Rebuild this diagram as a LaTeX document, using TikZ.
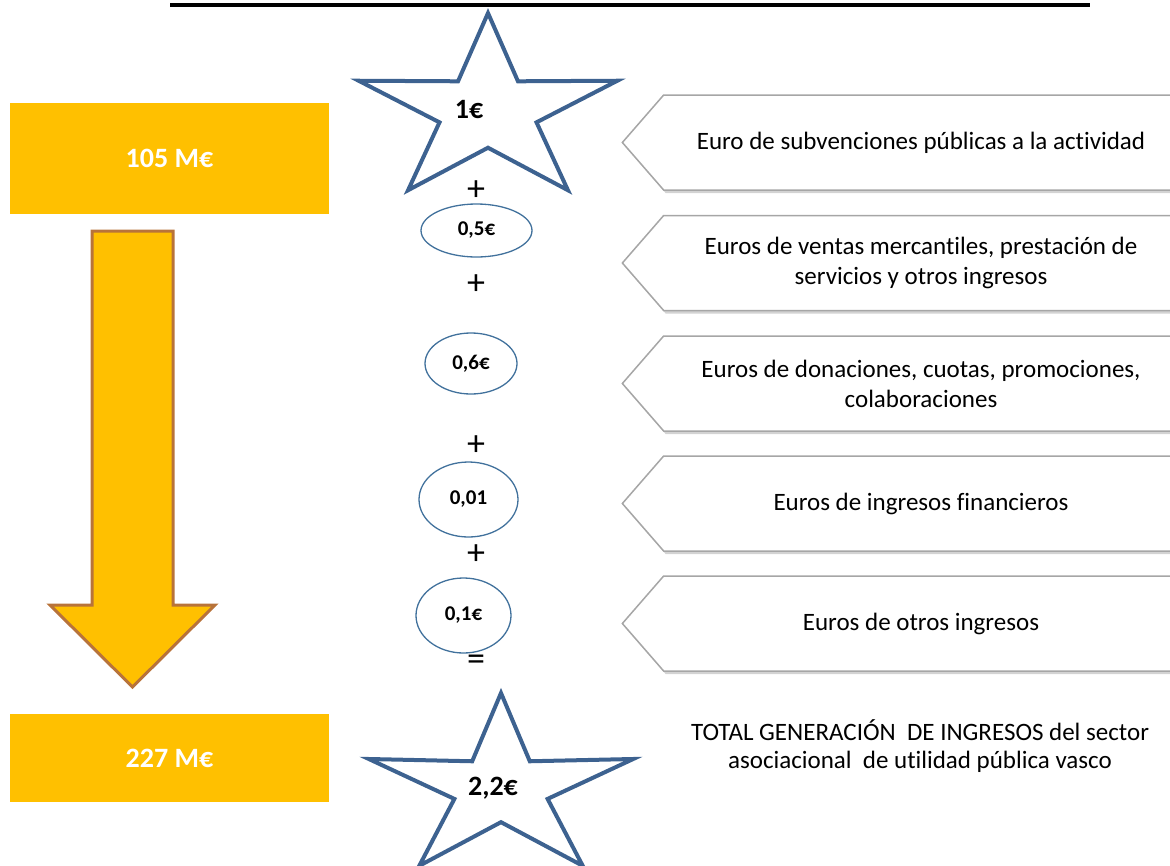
\documentclass[tikz,border=0pt]{standalone}
\usepackage{fontspec}
\setmainfont{Carlito}[Ligatures=NoCommon]
\usepackage{tikz}
\usetikzlibrary{shapes.geometric, shapes.symbols, shadows}

\definecolor{naranja}{HTML}{FFC000}
\definecolor{marron}{HTML}{B8733A}
\definecolor{azulestrella}{HTML}{3D6290}
\definecolor{azulelipse}{HTML}{41719C}
\definecolor{grisborde}{HTML}{A6A6A6}

% estrella achatada: centro x, centro y, radio exterior, radio interior, escala vertical
\newcommand{\estrella}[5]{%
  \draw[estrellalinea] plot[samples at={0,...,9}, variable=\k]
    ({#1+ifthenelse(mod(\k,2)==0,#3,#4)*cos(90+36*\k)},
     {#2-#5*ifthenelse(mod(\k,2)==0,#3,#4)*sin(90+36*\k)}) -- cycle;}

\begin{document}
\begin{tikzpicture}[x=1pt, y=-1pt]
    % Definición de estilos
    \tikzstyle{bloque} = [fill=naranja, text=white, font=\fontsize{28}{32}\selectfont\bfseries, minimum width=319pt, inner sep=0pt]
    \tikzstyle{estrellalinea} = [draw=azulestrella, line width=4pt, line join=miter]
    \tikzstyle{valor} = [font=\fontsize{28}{32}\selectfont\bfseries, inner sep=0pt]
    \tikzstyle{elipse} = [draw=azulelipse, ellipse, line width=1.3pt, font=\fontsize{21}{24}\selectfont\bfseries, inner sep=0pt]
    \tikzstyle{signo} = [font=\fontsize{36}{38}\selectfont, inner sep=0pt]
    \tikzstyle{flecha} = [draw=grisborde, fill=white, line width=1.5pt, signal, signal to=west, signal pointer angle=98, minimum width=556pt, minimum height=95pt, inner sep=0pt, align=center, font=\fontsize{25}{30}\selectfont, drop shadow={shadow xshift=2pt, shadow yshift=-3pt, opacity=0.35, fill=gray}]
    \tikzstyle{flechagorda} = [fill=naranja, draw=marron, line width=3pt]

    \useasboundingbox (0,0) rectangle (1170,865);

    % Línea superior
    \coordinate (lineaA) at (170,5);
    \coordinate (lineaB) at (1090,5);
    \draw[line width=3.5pt] (lineaA) -- (lineaB);

    % Bloques naranjas
    \node[bloque, minimum height=111pt] (m1) at (169.5,158.5) {105 M€};
    \node[bloque, minimum height=88pt] (m2) at (169.5,758) {227 M€};

    % Flecha hacia abajo
    \draw[flechagorda] (92,231) -- (173,231) -- (173,605) -- (215,605) -- (132.5,687) -- (50,605) -- (92,605) -- cycle;

    % Estrellas
    \estrella{488}{111}{136}{51}{0.72}
    \node[valor] (e1) at (469,110) {1€};
    \estrella{501}{788.5}{139}{49}{0.687}
    \node[valor] (e2) at (493,788) {2,2€};

    % Elipses con los valores
    \node[elipse, minimum width=111pt, minimum height=53pt] (v1) at (476.5,230.5) {0,5€};
    \node[elipse, minimum width=92pt, minimum height=61pt] (v2) at (471,363.5) {0,6€};
    \node[elipse, minimum width=99pt, minimum height=75pt] (v3) at (468.5,499.5) {0,01};
    \node[elipse, minimum width=95pt, minimum height=75pt] (v4) at (463.5,615.5) {0,1€};

    % Signos
    \node[signo] (s1) at (476,191) {+};
    \node[signo] (s2) at (476,285) {+};
    \node[signo] (s3) at (476,446) {+};
    \node[signo] (s4) at (476,555) {+};
    \node[signo] (s5) at (476,663) {=};

    % Flechas de texto
    \node[flecha] (t1) at (921,142.5) {Euro de subvenciones públicas a la actividad};
    \node[flecha] (t2) at (921,263) {Euros de ventas mercantiles, prestación de\\servicios y otros ingresos};
    \node[flecha] (t3) at (921,383.5) {Euros de donaciones, cuotas, promociones,\\colaboraciones};
    \node[flecha] (t4) at (921,503.5) {Euros de ingresos financieros};
    \node[flecha] (t5) at (921,623.5) {Euros de otros ingresos};

    % Texto final
    \node[align=center, font=\fontsize{25}{28}\selectfont, inner sep=0pt] (total) at (920,746) {TOTAL GENERACIÓN\ \ DE INGRESOS del sector\\asociacional\ \ de utilidad pública vasco};
\end{tikzpicture}
\end{document}
